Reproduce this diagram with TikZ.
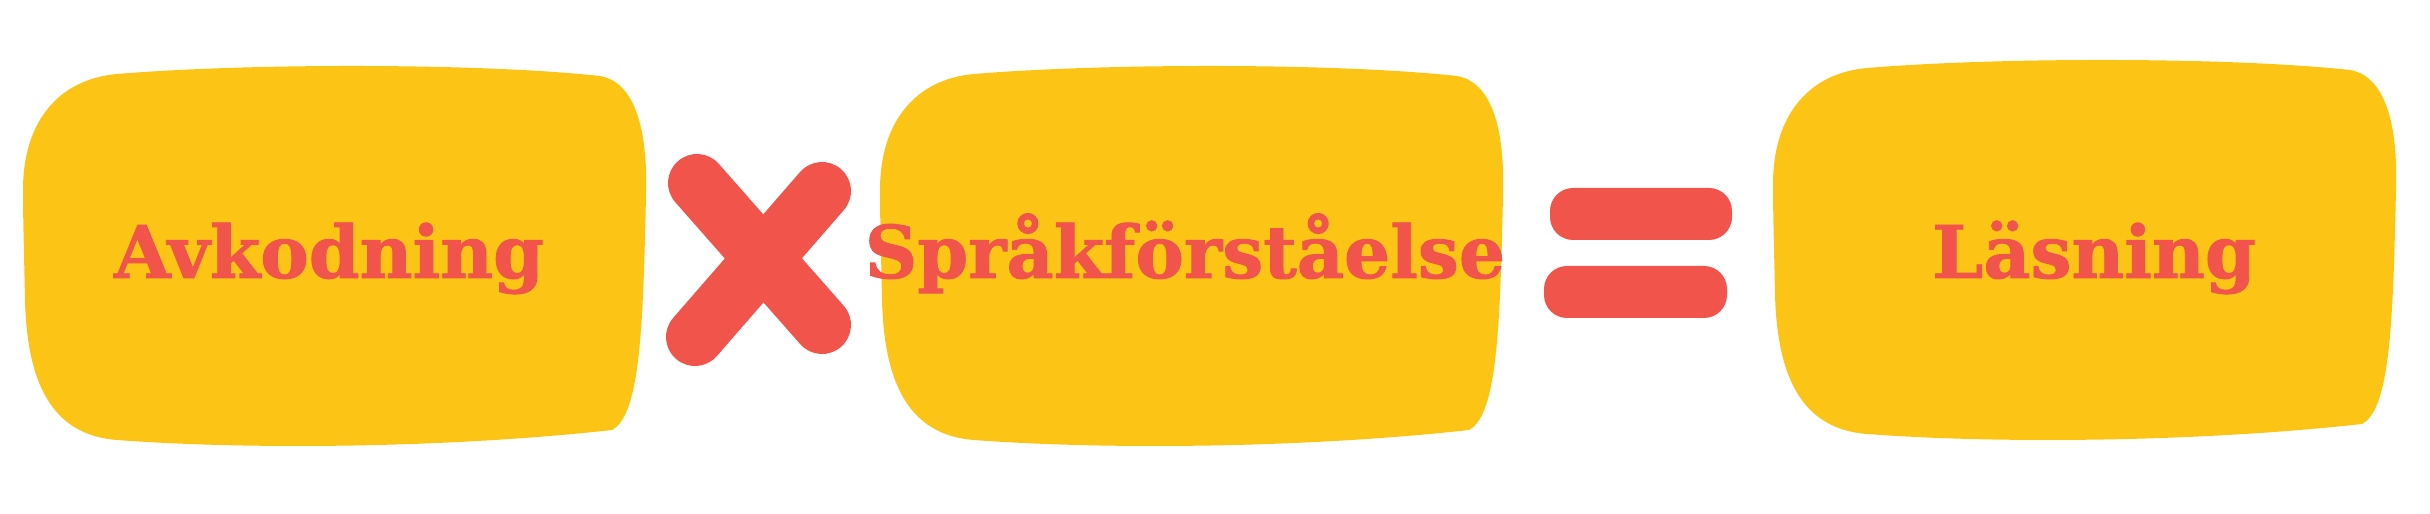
\documentclass[tikz,border=0pt]{standalone}
\usepackage{fontspec}
\setmainfont{DejaVu Serif}[BoldFeatures={FakeBold=1.2}]
\usepackage{xcolor}
\usepackage{tikz}
\usetikzlibrary{positioning}
\definecolor{blobyellow}{HTML}{FCC515}
\definecolor{signred}{HTML}{F0544A}
\tikzset{
  blob/.pic={\fill[blobyellow] (117,74) .. controls (250,63) and (480,63) .. (600,76)
    .. controls (635,82) and (648,130) .. (646,195)
    .. controls (643,330) and (640,415) .. (612,430)
    .. controls (450,448) and (250,450) .. (117,440)
    .. controls (50,435) and (27,380) .. (25,300)
    .. controls (24,250) and (23,220) .. (23,190)
    .. controls (23,120) and (60,79) .. (117,74) -- cycle;},
  word/.style={text=signred, font=\fontsize{20.7pt}{24pt}\selectfont\bfseries, anchor=base, inner sep=0pt}
}

\begin{document}
\begin{tikzpicture}[x=0.1mm,y=-0.1mm]
  \useasboundingbox (0,0) rectangle (2430,514);
  \pic at (0,0) {blob};
  \pic at (857,0) {blob};
  \pic at (1750,-6) {blob};
  \node[word] (avk) at (329,278) {Avkodning};
  \node[word] (spr) at (1185,278) {Språkförståelse};
  \node[word] (las) at (2094,278) {Läsning};
  % times sign
  \draw[signred, line width=5.8mm, line cap=round] (697,183) -- (822,325) (695,337) -- (822,191);
  % equals sign
  \fill[signred, rounded corners=2.3mm] (1550,188) rectangle (1732,240) (1544,266) rectangle (1727,318);
\end{tikzpicture}
\end{document}
